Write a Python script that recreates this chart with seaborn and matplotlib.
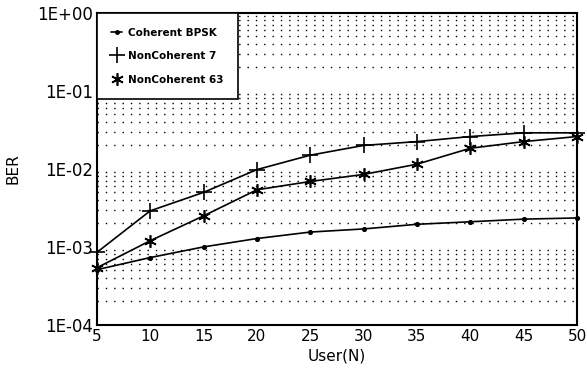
import numpy as np
import pandas as pd
import matplotlib
matplotlib.use("Agg")
import matplotlib.pyplot as plt
import seaborn as sns
from matplotlib.ticker import FixedLocator, LogLocator, NullFormatter
from matplotlib.lines import Line2D

users = [5, 10, 15, 20, 25, 30, 35, 40, 45, 50]
coherent_bpsk = [5.1e-4, 7.3e-4, 1.0e-3, 1.28e-3, 1.55e-3, 1.7e-3, 1.95e-3, 2.1e-3, 2.27e-3, 2.35e-3]
noncoherent_7 = [8.5e-4, 2.9e-3, 5.0e-3, 9.8e-3, 1.5e-2, 2.0e-2, 2.24e-2, 2.6e-2, 2.9e-2, 2.9e-2]
noncoherent_63 = [5.4e-4, 1.2e-3, 2.5e-3, 5.4e-3, 6.9e-3, 8.5e-3, 1.15e-2, 1.84e-2, 2.24e-2, 2.6e-2]
series_names = ["Coherent BPSK", "NonCoherent 7", "NonCoherent 63"]
y_ticks = [1e-4, 1e-3, 1e-2, 1e-1, 1e0]
y_tick_labels = ["1E-04", "1E-03", "1E-02", "1E-01", "1E+00"]
x_ticks = [5, 10, 15, 20, 25, 30, 35, 40, 45, 50]

sns.set_style("white")
plt.rcParams["font.family"] = ["DejaVu Sans"]
plt.rcParams["text.color"] = "black"
plt.rcParams["axes.labelcolor"] = "black"
plt.rcParams["xtick.color"] = "black"
plt.rcParams["ytick.color"] = "black"

fig = plt.figure(figsize=(5.87, 3.80), dpi=100)
ax = fig.add_axes([0.165, 0.145, 0.818, 0.821])

styles = [
    dict(marker="o", markersize=2.5, markerfacecolor="black"),
    dict(marker="+", markersize=11),
    dict(marker=(6, 2, 0), markersize=9),
]
for name, vals, st in zip(series_names, [coherent_bpsk, noncoherent_7, noncoherent_63], styles):
    d = pd.DataFrame({"User(N)": users, "BER": vals})
    sns.lineplot(data=d, x="User(N)", y="BER", color="black", linewidth=1.2, ax=ax,
                 markeredgecolor="black", markeredgewidth=1.2, clip_on=False, **st)

ax.set_yscale("log")
ax.set_ylim(1e-4, 1e0)
ax.set_xlim(5, 50)
ax.set_xticks(x_ticks)
ax.set_xticklabels([str(v) for v in x_ticks], fontsize=11)
ax.yaxis.set_major_locator(FixedLocator(y_ticks))
ax.set_yticklabels(y_tick_labels, fontsize=12)
ax.yaxis.set_minor_locator(LogLocator(base=10, subs=np.arange(2, 10)))
ax.yaxis.set_minor_formatter(NullFormatter())
ax.tick_params(axis="y", which="minor", length=0)
ax.tick_params(axis="both", which="major", length=0, pad=3)
ax.grid(True, which="minor", axis="y", color="black", linestyle=(0, (1, 5)), linewidth=1.0)

for s in ax.spines.values():
    s.set_color("black")
    s.set_linewidth(1.5)

ax.set_xlabel("User(N)", fontsize=11, labelpad=3)
ax.set_ylabel("BER", fontsize=11, labelpad=12)

handles = [
    Line2D([0], [0], color="black", marker="o", markersize=2.5, linewidth=1.2),
    Line2D([0], [0], color="none", marker="+", markersize=11, markeredgecolor="black", markeredgewidth=1.2),
    Line2D([0], [0], color="none", marker=(6, 2, 0), markersize=9, markeredgecolor="black", markeredgewidth=1.2),
]
leg = ax.legend(handles, series_names, loc="upper left", frameon=True, fancybox=False,
                prop={"size": 7.5, "weight": "bold"}, handlelength=1.0, handletextpad=0.6,
                borderpad=1.4, labelspacing=1.3, borderaxespad=0)
leg.get_frame().set_edgecolor("black")
leg.get_frame().set_linewidth(1.2)
leg.get_frame().set_facecolor("white")
leg.get_frame().set_alpha(1)

fig.savefig("out.png", dpi=100, facecolor="white")
